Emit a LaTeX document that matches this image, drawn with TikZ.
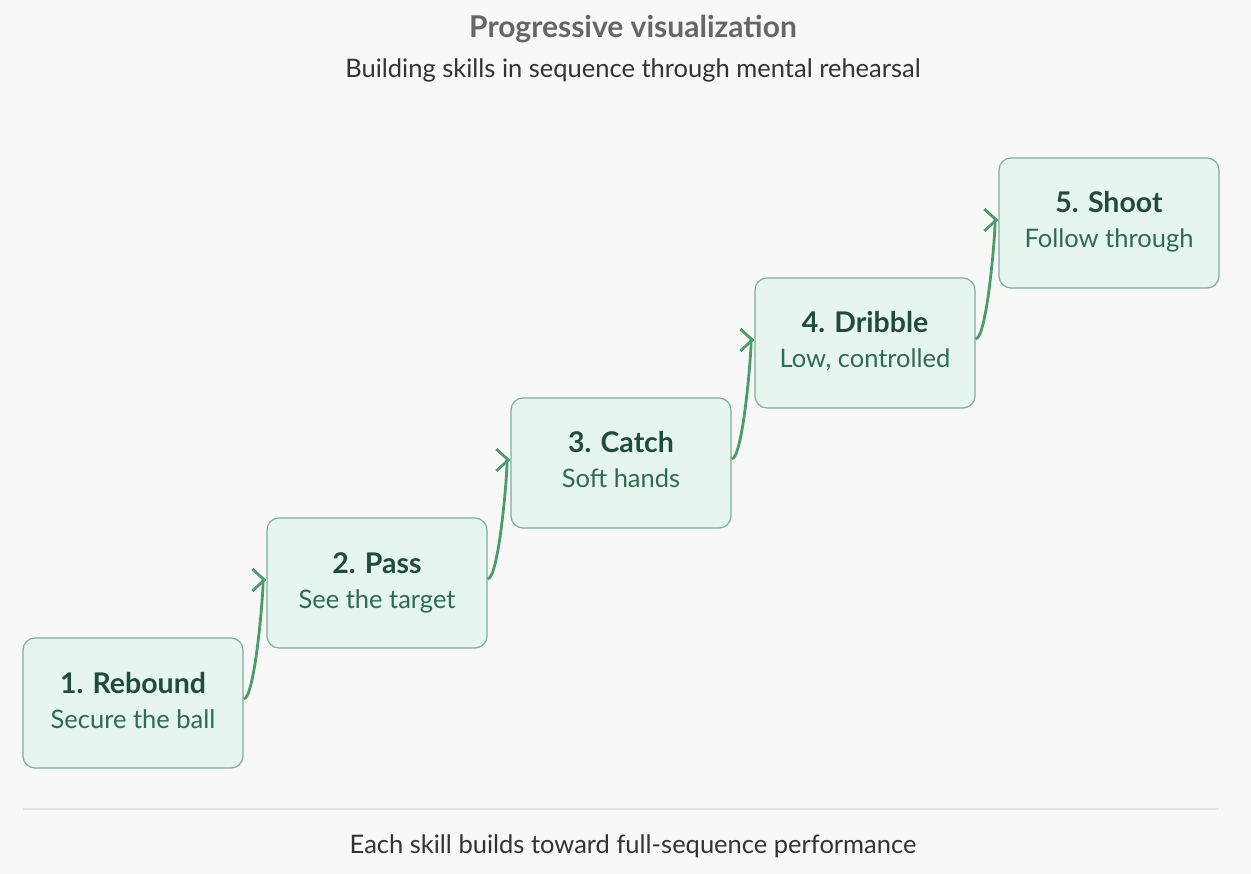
\documentclass[tikz,border=0pt]{standalone}
\usepackage{fontspec}
\setmainfont{Lato}
\usetikzlibrary{arrows.meta,calc}
\definecolor{bg}{HTML}{F8F8F6}
\definecolor{boxfill}{HTML}{E6F5EE}
\definecolor{boxline}{HTML}{7FAE98}
\definecolor{titlegreen}{HTML}{1F4D3A}
\definecolor{subgreen}{HTML}{2E6B50}
\definecolor{arrowgreen}{HTML}{4A9A72}
\definecolor{titlegray}{HTML}{666666}
\definecolor{textdark}{HTML}{333333}
\definecolor{rule}{HTML}{E4E4E2}
\tikzset{
  stepbox/.style={draw=boxline, fill=boxfill, line width=1.2pt, rounded corners=12pt,
    minimum width=220pt, minimum height=130pt, inner sep=0pt},
  steptitle/.style={anchor=base, inner sep=0pt, text=titlegreen, font=\fontsize{28.5}{32}\selectfont\bfseries},
  stepsub/.style={anchor=base, inner sep=0pt, text=subgreen, font=\fontsize{25.5}{30}\selectfont},
  plaintext/.style={anchor=base, inner sep=0pt, text=textdark, font=\fontsize{25.5}{30}\selectfont},
  conn/.style={draw=arrowgreen, line width=2.8pt, -{Straight Barb[length=12pt,width=22pt,line width=2.8pt]}},
}
\begin{document}
\begin{tikzpicture}[x=1pt,y=-1pt]
\fill[bg] (0,0) rectangle (1251,874);
\useasboundingbox (0,0) rectangle (1251,874);
\node[anchor=base, inner sep=0pt, text=titlegray, font=\fontsize{30}{34}\selectfont\bfseries] (title) at (633,38) {Progressive visualization};
\node[plaintext] (subtitle) at (633,78) {Building skills in sequence through mental rehearsal};
\foreach \i/\x/\y/\t/\s in {1/133/703/1. Rebound/Secure the ball, 2/377/583/2. Pass/See the target, 3/621/463/3. Catch/Soft hands, 4/865/343/4. Dribble/{Low, controlled}, 5/1109/223/5. Shoot/Follow through}{
  \node[stepbox] (b\i) at (\x,\y) {};
  \node[steptitle] (b\i t) at ($(b\i.center)+(0,-10)$) {\t};
  \node[stepsub] (b\i s) at ($(b\i.center)+(0,25)$) {\s};
}
\draw[conn] ($(b1.east)+(0,-4)$) .. controls +(12,0) and +(-2,0) .. ($(b2.west)+(0,-3)$);
\draw[conn] ($(b2.east)+(0,-4)$) .. controls +(12,0) and +(-2,0) .. ($(b3.west)+(0,-3)$);
\draw[conn] ($(b3.east)+(0,-4)$) .. controls +(12,0) and +(-2,0) .. ($(b4.west)+(0,-3)$);
\draw[conn] ($(b4.east)+(0,-4)$) .. controls +(12,0) and +(-2,0) .. ($(b5.west)+(0,-3)$);
\coordinate (r1) at (23,809);
\coordinate (r2) at (1219,809);
\draw[rule, line width=1.5pt] (r1) -- (r2);
\node[plaintext] (footer) at (633,853) {Each skill builds toward full-sequence performance};
\end{tikzpicture}
\end{document}
